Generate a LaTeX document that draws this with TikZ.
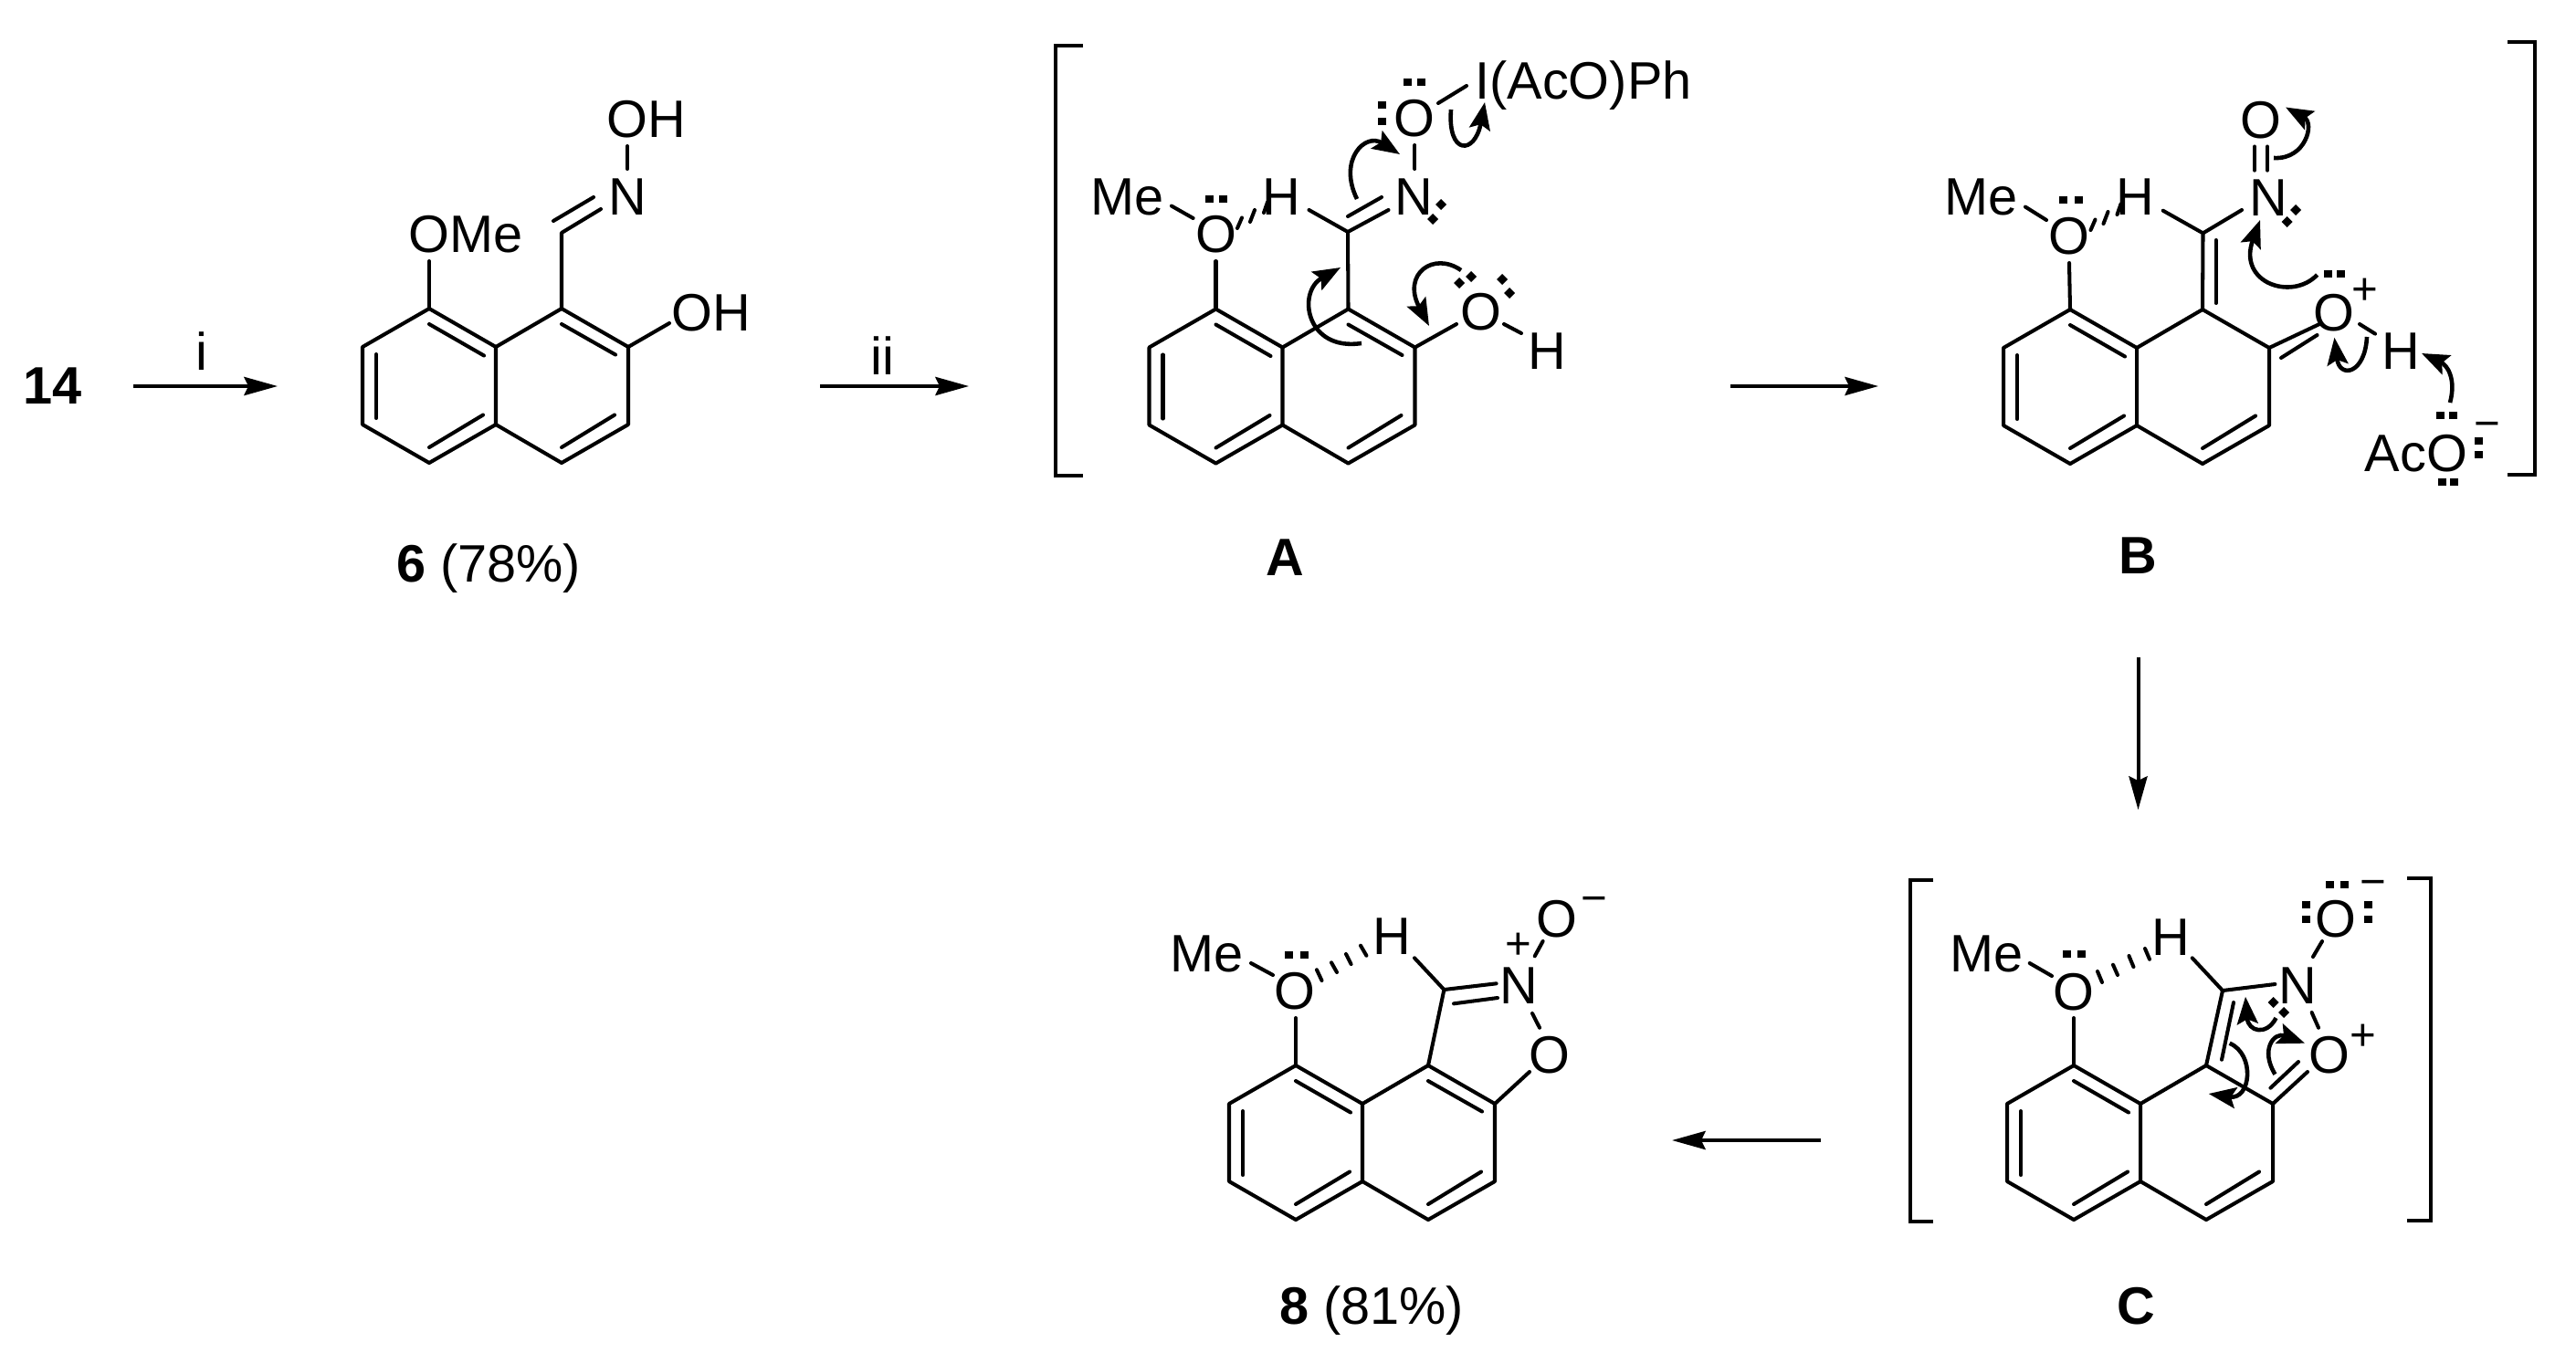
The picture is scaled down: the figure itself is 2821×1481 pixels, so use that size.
\documentclass[tikz,border=0pt]{standalone}
\usepackage{fontspec}
\setmainfont{Liberation Sans}
\usetikzlibrary{arrows.meta}
\tikzset{
  bond/.style={line width=1.15pt,line cap=round,line join=round},
  rxn/.style={line width=1.15pt,-{Stealth[length=10.4pt,width=5.7pt,inset=1.3pt]}},
  curly/.style={line width=1.3pt,-{Stealth[length=8.5pt,width=6.5pt,inset=1.5pt]}},
  bracket/.style={line width=1.15pt,line cap=butt,line join=miter},
  lab/.style={inner sep=0pt,text height=11.7pt,text depth=0pt,font=\fontsize{16.4}{18}\selectfont},
  chg/.style={inner sep=0pt,anchor=base,yshift=-4.8pt,font=\fontsize{14}{16}\selectfont}
}
\newcommand{\naphring}[3]{%
  \begin{scope}[shift={(#2,#3)}]
    \coordinate (#1C8) at (0,0);
    \coordinate (#1C7) at (-73,42);
    \coordinate (#1C6) at (-73,127);
    \coordinate (#1C5) at (0,169);
    \coordinate (#1C4a) at (73,127);
    \coordinate (#1C8a) at (73,42);
    \coordinate (#1C1) at (145,0);
    \coordinate (#1C2) at (218,42);
    \coordinate (#1C3) at (218,127);
    \coordinate (#1C4) at (145,169);
    \draw[bond] (#1C8)--(#1C7)--(#1C6)--(#1C5)--(#1C4a)--(#1C8a)--cycle;
    \draw[bond] (#1C8a)--(#1C1)--(#1C2)--(#1C3)--(#1C4)--(#1C4a);
    \draw[bond] (0,17)--(60,51.5);
    \draw[bond] (-58,50)--(-58,120);
    \draw[bond] (0,152)--(59,116.5);
    \draw[bond] (145,152)--(203,116.5);
  \end{scope}}
\newcommand{\innerCC}[2]{\draw[bond,shift={(#1,#2)}] (145,17)--(204,50.5);}
\newcommand{\lps}[2]{\fill[shift={(#1,#2)}] (-4.5,-4) rectangle (4.5,4);}
\newcommand{\lpd}[2]{\fill[shift={(#1,#2)}] (-6,0)--(0,-6)--(6,0)--(0,6)--cycle;}
\begin{document}
\begin{tikzpicture}[x=0.01cm,y=-0.01cm]
\useasboundingbox (0,0) rectangle (2821,1481);

% ---------- 14 and arrow i
\node[lab,font=\fontsize{16.4}{18}\selectfont\bfseries] (n14) at (58,422) {14};
\node[lab] (ni) at (221,385) {i};
\coordinate (r1s) at (146,423); \coordinate (r1e) at (304,423);
\draw[rxn] (r1s) -- (r1e);

% ---------- compound 6
\naphring{s}{470}{338}
\innerCC{470}{338}
\node[lab] (sOMe) at (510,256) {OMe};
\node[lab] (sNOH) at (708,130) {OH};
\node[lab] (sN) at (687,215) {N};
\node[lab] (sOH) at (779,342) {OH};
\coordinate (sCH) at (615,255);
\draw[bond] (sC1)--(sCH)--(658,229);
\draw[bond] (606,242)--(650,216);
\draw[bond] (687,160)--(687,185);
\draw[bond] (sC8)--(470,286);
\draw[bond] (sC2)--(733,354);
\node[lab] (s6) at (535,617) {\textbf{6} (78\%)};

% ---------- arrow ii
\node[lab] (nii) at (966,390) {ii};
\coordinate (r2s) at (898,423); \coordinate (r2e) at (1061,423);
\draw[rxn] (r2s) -- (r2e);

% ---------- compound A
\draw[bracket] (1186,50)--(1156,50)--(1156,521)--(1186,521);
\naphring{a}{1331.5}{338.5}
\innerCC{1331.5}{338.5}
\node[lab] (aMe) at (1234.5,215) {Me};
\node[lab] (aO) at (1331.5,256) {O};
\node[lab] (aH) at (1403.6,215) {H};
\node[lab] (aN) at (1548,215) {N};
\node[lab] (aO2) at (1549.4,129) {O};
\node[lab] (aI) at (1734,88) {I(AcO)Ph};
\node[lab] (aO3) at (1621.5,341) {O};
\node[lab] (aH3) at (1694,384) {H};
\coordinate (aCH) at (1476,254);
\draw[bond] (aC8)--(1331.5,286);
\draw[bond] (1283,225.6)--(1306.6,239);
\draw[bond] (1360,238.5)--(1355,250);
\draw[bond] (1374,230)--(1369,243);
\draw[bond] (1388,221.5)--(1384,233);
\draw[bond] (1433.5,230)--(aCH)--(1520.5,230);
\draw[bond] (1476,237)--(1513,216);
\draw[bond] (aC1)--(aCH);
\draw[bond] (1549.4,159)--(1549.4,185);
\draw[bond] (1575,113)--(1606,94);
\draw[bond] (aC2)--(1595,355);
\draw[bond] (1647,355)--(1666,365);
\lps{1324}{217.5}\lps{1339}{217.5}
\lps{1541.4}{90}\lps{1556.4}{90}
\lps{1513}{114.7}\lps{1513}{133.4}
\lpd{1578}{224}\lpd{1569}{240}
\lpd{1598}{310}\lpd{1611}{303}
\lpd{1645}{306}\lpd{1653}{321}
\draw[curly] (1589,120) .. controls (1585,170) and (1615,170) .. (1626,112);
\draw[curly] (1486,218) .. controls (1465,175) and (1495,145) .. (1533,169);
\draw[curly] (1491,376) .. controls (1430,385) and (1420,320) .. (1468,293);
\draw[curly] (1600,296) .. controls (1570,275) and (1535,300) .. (1565,357);
\node[lab,font=\fontsize{16.4}{18}\selectfont\bfseries] (lA) at (1407,610) {A};

% ---------- arrow A to B
\coordinate (r3s) at (1895,423); \coordinate (r3e) at (2057,423);
\draw[rxn] (r3s) -- (r3e);

% ---------- compound B
\naphring{b}{2267}{339}
\node[lab] (bMe) at (2169.6,215) {Me};
\node[lab] (bO) at (2266,258) {O};
\node[lab] (bH) at (2338.5,215) {H};
\node[lab] (bN) at (2484.7,216) {N};
\node[lab] (bO2) at (2476,131) {O};
\node[lab] (bO3) at (2556,342) {O};
\node[chg] (bplus) at (2590,316.5) {+};
\node[lab] (bH3) at (2629.5,384) {H};
\node[lab] (bAc) at (2646,496) {AcO};
\node[chg] (bminus) at (2723.5,464) {−};
\coordinate (bCH) at (2412.5,255.4);
\draw[bond] (bC8)--(2266,288);
\draw[bond] (2218,226.6)--(2241,241);
\draw[bond] (2294.5,240.5)--(2289.5,252);
\draw[bond] (2308.5,232)--(2303.5,245);
\draw[bond] (2322.5,223.5)--(2318.5,235);
\draw[bond] (2368.7,230.7)--(bCH)--(2455,230);
\draw[bond] (bCH)--(bC1);
\draw[bond] (2426.7,263)--(2426.7,332);
\draw[bond] (2469,160.5)--(2469,186.6);
\draw[bond] (2483,160.5)--(2483,186.6);
\draw[bond] (bC2)--(2540,355);
\draw[bond] (2498,392)--(2537.5,367);
\draw[bond] (2584,355)--(2601,365.6);
\lps{2259}{219}\lps{2276}{219}
\lpd{2514}{230}\lpd{2504.5}{243}
\lps{2549}{300}\lps{2563.5}{300}
\lps{2672}{455}\lps{2686}{455}
\lps{2674}{528}\lps{2687.5}{528}
\lps{2714.5}{482.5}\lps{2714.5}{498}
\draw[curly] (2490,173) .. controls (2525,175) and (2535,135) .. (2503,117.5);
\draw[curly] (2537.6,301) .. controls (2510,330) and (2450,310) .. (2475,241);
\draw[curly] (2592,369) .. controls (2590,410) and (2562,415) .. (2556.4,369.7);
\draw[curly] (2683,441) .. controls (2690,415) and (2680,400) .. (2652,387);
\draw[bracket] (2746,46)--(2776,46)--(2776,520)--(2746,520);
\node[lab,font=\fontsize{16.4}{18}\selectfont\bfseries] (lB) at (2341,608) {B};

% ---------- arrow B to C
\coordinate (r4s) at (2341.5,720); \coordinate (r4e) at (2341.5,887);
\draw[rxn] (r4s) -- (r4e);

% ---------- compound C
\draw[bracket] (2117,964)--(2092,964)--(2092,1338)--(2117,1338);
\naphring{c}{2271}{1167}
\node[lab] (cMe) at (2175.7,1044) {Me};
\node[lab] (cO) at (2271,1085.7) {O};
\node[lab] (cH) at (2377.7,1026) {H};
\node[lab] (cN) at (2516,1079) {N};
\node[lab] (cO2) at (2558,1005.7) {O};
\node[chg] (cminus) at (2599,966) {−};
\node[lab] (cO3) at (2551,1155) {O};
\node[chg] (cplus) at (2588,1134) {+};
\coordinate (cCH) at (2434,1085);
\draw[bond] (cC8)--(2271,1115);
\draw[bond] (2222.7,1055)--(2247,1069);
\draw[bond] (2297,1064)--(2302,1076);
\draw[bond] (2314,1056.7)--(2319,1068);
\draw[bond] (2331.4,1047)--(2336.4,1059);
\draw[bond] (2349,1039)--(2354,1050.7);
\draw[bond] (2400.7,1049.3)--(cCH)--(2491.4,1078);
\draw[bond] (cCH)--(cC1);
\draw[bond] (2446,1098)--(2433,1160.7);
\draw[bond] (2533,1048)--(2543,1031);
\draw[bond] (2531.6,1109)--(2539,1125.7);
\draw[bond] (cC2)--(2527,1174);
\draw[bond] (2486.4,1191.7)--(2517,1163);
\lps{2263}{1045}\lps{2279}{1045}
\lps{2551.5}{969}\lps{2567}{969}
\lps{2525}{990.7}\lps{2525}{1007}
\lps{2593}{990.7}\lps{2593}{1007}
\lpd{2489.5}{1098}\lpd{2501}{1109}
\draw[curly] (2492.5,1115) .. controls (2482,1135) and (2462,1130) .. (2459,1091.7);
\draw[curly] (2491.4,1176.7) .. controls (2475,1150) and (2490,1130) .. (2524,1142.7);
\draw[curly] (2441.7,1142.7) .. controls (2470,1155) and (2465,1205) .. (2418.7,1198);
\draw[bracket] (2636,962)--(2662,962)--(2662,1337)--(2636,1337);
\node[lab,font=\fontsize{16.4}{18}\selectfont\bfseries] (lC) at (2339,1430) {C};

% ---------- arrow C to 8
\coordinate (r5s) at (1994,1249); \coordinate (r5e) at (1831,1249);
\draw[rxn] (r5s) -- (r5e);

% ---------- compound 8
\naphring{e}{1419}{1167}
\innerCC{1419}{1167}
\node[lab] (eMe) at (1321.4,1044) {Me};
\node[lab] (eO) at (1418,1085) {O};
\node[lab] (eH) at (1524,1025) {H};
\node[lab] (eN) at (1663.6,1079) {N};
\node[chg] (eplus) at (1663,1034) {+};
\node[lab] (eO2) at (1704.6,1005.7) {O};
\node[chg] (eminus) at (1746,984) {−};
\node[lab] (eO3) at (1696.8,1155) {O};
\coordinate (eCH) at (1581.4,1084);
\draw[bond] (eC8)--(1419,1115);
\draw[bond] (1370,1055)--(1394,1068);
\draw[bond] (1442,1062.3)--(1447.5,1074);
\draw[bond] (1458,1054.3)--(1464,1065);
\draw[bond] (1474,1045)--(1479.6,1056);
\draw[bond] (1490,1035.7)--(1496.4,1046.7);
\draw[bond] (1549,1049.3)--(eCH)--(1638.6,1077.3);
\draw[bond] (1592,1099.3)--(1640,1093);
\draw[bond] (eC1)--(eCH);
\draw[bond] (1680.7,1047.3)--(1689.6,1031);
\draw[bond] (1678,1110)--(1686,1125.7);
\draw[bond] (eC2)--(1675,1174);
\lps{1411.8}{1046}\lps{1428}{1046}
\node[lab] (e8) at (1502,1430) {\textbf{8} (81\%)};
\end{tikzpicture}
\end{document}
